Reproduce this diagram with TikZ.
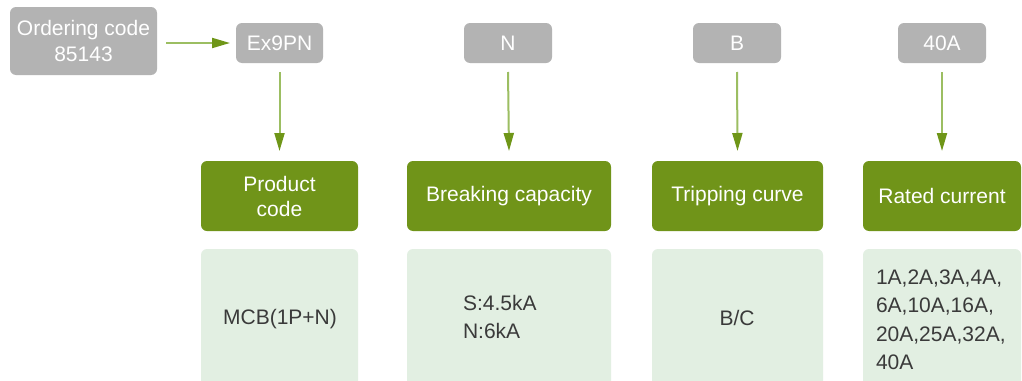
\documentclass[tikz,border=0pt]{standalone}
\usepackage{fontspec}
\setmainfont{Liberation Sans}
\usetikzlibrary{arrows.meta,calc}
\definecolor{boxgray}{HTML}{B3B3B3}
\definecolor{boxgreen}{HTML}{709419}
\definecolor{boxlight}{HTML}{E2EFE2}
\definecolor{arrowline}{HTML}{9CBE62}
\definecolor{arrowhead}{HTML}{6F9618}
\definecolor{textdark}{HTML}{3A3A3A}
\begin{document}
\begin{tikzpicture}[x=1pt,y=-1pt,
  every node/.style={inner sep=0pt,outer sep=0pt},
  graybox/.style={fill=boxgray,rounded corners=6pt,text=white,font=\fontsize{21}{25.5}\selectfont,align=center},
  greenbox/.style={fill=boxgreen,rounded corners=6pt,text=white,font=\fontsize{21}{25}\selectfont,align=center},
  lightbox/.style={fill=boxlight,rounded corners=6pt},
  listtext/.style={text=textdark,font=\fontsize{21}{28.5}\selectfont,align=left},
  conn/.style={draw=arrowline,line width=2pt,-{Triangle[length=18pt,width=10pt,color=arrowhead]}}
]
\useasboundingbox (0,0) rectangle (1022,380);
\fill[white] (0,0) rectangle (1022,380);
% top row
\node[graybox,minimum width=147pt,minimum height=68pt] (oc) at (83.5,41) {Ordering code\\85143};
\node[graybox,minimum width=87pt,minimum height=40pt] (g1) at (279.5,43) {Ex9PN};
\node[graybox,minimum width=88pt,minimum height=40pt] (g2) at (508,43) {N};
\node[graybox,minimum width=88pt,minimum height=40pt] (g3) at (737,43) {B};
\node[graybox,minimum width=88pt,minimum height=40pt] (g4) at (942,43) {40A};
% green row
\node[greenbox,minimum width=157pt,minimum height=70pt] (h1) at (279.5,196) {Product\\code};
\node[greenbox,minimum width=204pt,minimum height=70pt] (h2) at (509,196) {Breaking capacity};
\node[greenbox,minimum width=171pt,minimum height=70pt] (h3) at (737.5,196) {Tripping curve};
\node[greenbox,minimum width=158pt,minimum height=70pt] (h4) at (942,196) {Rated current};
% light row (cut at bottom edge)
\begin{scope}
\clip (0,0) rectangle (1022,380);
\node[lightbox,minimum width=157pt,minimum height=141pt] (l1) at (279.5,319.5) {};
\node[lightbox,minimum width=204pt,minimum height=141pt] (l2) at (509,319.5) {};
\node[lightbox,minimum width=171pt,minimum height=141pt] (l3) at (737.5,319.5) {};
\node[lightbox,minimum width=158pt,minimum height=141pt] (l4) at (942,319.5) {};
\end{scope}
\node[listtext] (t1) at (280,319) {MCB(1P+N)};
\node[listtext,anchor=west] (t2) at (463,317) {S:4.5kA\\N:6kA};
\node[listtext] (t3) at (737,318) {B/C};
\node[listtext,anchor=west] (t4) at (876,320) {1A,2A,3A,4A,\\6A,10A,16A,\\20A,25A,32A,\\40A};
% connectors
\draw[conn] ($(oc.east |- g1.west)+(9,0)$) -- ($(g1.west)+(-6,0)$);
\foreach \i in {1,2,3,4}{
  \draw[conn] ($(g\i.south)+(0,9)$) -- ($(h\i.north)+(0,-10)$);
}
\end{tikzpicture}
\end{document}
